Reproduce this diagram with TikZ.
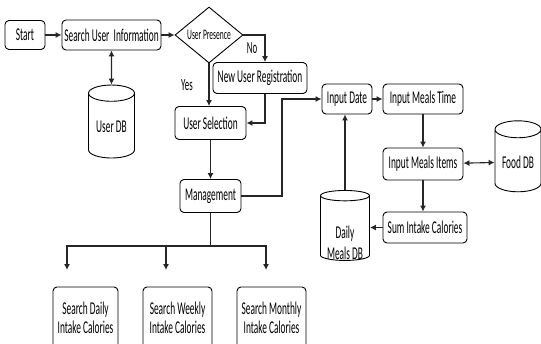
\documentclass[tikz,border=0pt]{standalone}
\usepackage{fontspec}
\setmainfont{Carlito}[FakeStretch=0.52]
\usetikzlibrary{shapes.geometric,arrows.meta}

\begin{document}
\begin{tikzpicture}[x=1pt, y=-1pt,
	box/.style={draw, rounded corners=4pt, line width=0.9pt, inner sep=1pt, font=\fontsize{18}{19}\selectfont},
	db/.style={draw, cylinder, shape border rotate=90, aspect=0.5, line width=0.9pt, inner sep=1pt, font=\fontsize{18}{19}\selectfont},
	lbl/.style={font=\fontsize{17}{18}\selectfont},
	line/.style={line width=1.1pt, black!85},
	arr/.style={line, -{Latex[length=6pt,width=6pt]}},
	darr/.style={line, {Latex[length=6pt,width=6pt]}-{Latex[length=6pt,width=6pt]}}]
	\useasboundingbox (0,0) rectangle (541,343);
	\clip (0,0) rectangle (541,343);

	% user part
	\node[box, minimum width=40pt, minimum height=29pt] (start) at (25,35) {Start};
	\node[box, minimum width=99pt, minimum height=30pt] (search) at (111.5,35) {Search User\ \ Information};
	\node[draw, diamond, aspect=1.2, line width=0.9pt, inner sep=0pt, minimum width=68pt, minimum height=56pt, font=\fontsize{14.5}{15}\selectfont] (presence) at (209,35) {User Presence};
	\node[lbl] (no) at (252,48) {No};
	\node[lbl] (yes) at (187,85) {Yes};
	\node[box, minimum width=94pt, minimum height=31pt] (newuser) at (260,78) {New User Registration};
	\node[box, minimum width=71pt, minimum height=33pt] (usersel) at (210.5,123) {User Selection};
	\node[box, minimum width=61pt, minimum height=33pt] (manage) at (210.5,196) {Management};
	\node[db, minimum width=46pt, minimum height=73pt] (userdb) at (111.5,127) {User DB};

	% meals part
	\node[box, minimum width=50pt, minimum height=30pt] (inputdate) at (347,99) {Input Date};
	\node[box, minimum width=80pt, minimum height=30pt] (mealtime) at (423,99) {Input Meals Time};
	\node[box, minimum width=80pt, minimum height=32pt] (mealitems) at (423,164) {Input Meals Items};
	\node[db, minimum width=46pt, minimum height=71pt] (fooddb) at (518,162) {Food DB};
	\node[box, minimum width=84pt, minimum height=31pt] (sumcal) at (425,227.5) {Sum Intake Calories};
	\node[db, minimum width=49pt, minimum height=70pt,
		label={[align=center, anchor=south, inner sep=1pt, font=\fontsize{18}{21}\selectfont]south:{Daily\\Meals DB}}] (dailydb) at (345,229) {\phantom{Daily}};

	% search part
	\node[box, align=center, minimum width=65pt, minimum height=62pt] (daily) at (85.5,318) {Search Daily\\Intake Calories};
	\node[box, align=center, minimum width=69pt, minimum height=62pt] (weekly) at (177.5,318) {Search Weekly\\Intake Calories};
	\node[box, align=center, minimum width=69pt, minimum height=62pt] (monthly) at (271.5,318) {Search Monthly\\Intake Calories};

	\coordinate (turn) at (282,99);
	\coordinate (split) at (210.5,246);
	\coordinate (dailyin) at (67,270);
	\coordinate (weeklyin) at (166,270);
	\coordinate (monthlyin) at (266,270);

	\draw[arr] (start) -- (search);
	\draw[arr] (search) -- (presence);
	\draw[darr] (search) -- (userdb);
	\draw[arr] (presence.east) -| ([xshift=5pt]newuser.north);
	\draw[arr] ([xshift=5pt]newuser.south) |- (usersel.east);
	\draw[arr] (presence.south) -- (presence.south |- usersel.north);
	\draw[arr] (usersel) -- (manage);
	\draw[arr] (manage.east) -| (turn) -- (inputdate.west);
	\draw[arr] (inputdate) -- (mealtime);
	\draw[arr] (mealtime) -- (mealitems);
	\draw[darr] (mealitems) -- (fooddb);
	\draw[arr] (mealitems.south) -- (mealitems.south |- sumcal.north);
	\draw[arr] (sumcal.west) -- (sumcal.west -| dailydb.east);
	\draw[arr] (dailydb.north) -- (dailydb.north |- inputdate.south);

	\draw[line] (manage) -- (split);
	\draw[arr] (split) -| (dailyin);
	\draw[arr] (split) -| (weeklyin);
	\draw[arr] (split) -| (monthlyin);
\end{tikzpicture}
\end{document}
